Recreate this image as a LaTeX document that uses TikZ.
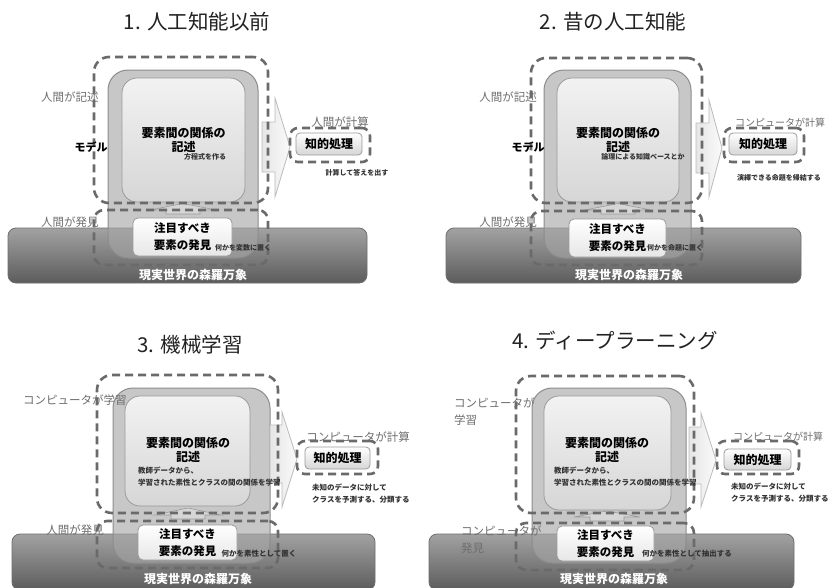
\documentclass[tikz,border=0pt]{standalone}
\usepackage{fontspec}
\setmainfont{Noto Sans CJK JP}
\definecolor{bartop}{HTML}{A2A2A2}
\definecolor{barbot}{HTML}{5C5C5C}
\definecolor{barline}{HTML}{6E6E6E}
\definecolor{outfill}{HTML}{A6A6A6}
\definecolor{outline}{HTML}{8C8C8C}
\definecolor{intop}{HTML}{F2F2F2}
\definecolor{inbot}{HTML}{D6D6D6}
\definecolor{inline}{HTML}{9A9A9A}
\definecolor{dashc}{HTML}{6A6A6A}
\definecolor{arrl}{HTML}{E6E6E6}
\definecolor{arrr}{HTML}{FAFAFA}
\definecolor{arrline}{HTML}{BBBBBB}
\definecolor{graytxt}{HTML}{6E6E6E}
\definecolor{smalltxt}{HTML}{333333}
\definecolor{titletxt}{HTML}{222222}
\newcommand\bx[7]{%
  \node[#2,minimum width={#5-#3},minimum height={#6-#4},inner sep=0pt,outer sep=0pt] (#1) at ({(#3+#5)/2},{(#4+#6)/2}) {#7};}
\begin{document}
\begin{tikzpicture}[x=1pt,y=-1pt,
  barst/.style={rounded corners=8pt,draw=barline,line width=0.8pt,top color=bartop,bottom color=barbot},
  outerst/.style={rounded corners=20pt,draw=outline,line width=1pt,fill=outfill,fill opacity=0.62,draw opacity=1},
  innerst/.style={rounded corners=15pt,draw=inline,line width=0.8pt,top color=intop,bottom color=inbot,align=center,font=\bfseries\fontsize{12}{14}\selectfont},
  intext/.style={align=center,inner sep=0pt,font=\bfseries\fontsize{12}{14}\selectfont},
  findst/.style={rounded corners=5pt,draw=inline,line width=0.8pt,top color=white,bottom color=inbot!60,align=center,font=\bfseries\fontsize{11.5}{17}\selectfont},
  chist/.style={rounded corners=4pt,draw=inline,line width=0.8pt,top color=white,bottom color=inbot,font=\bfseries\fontsize{12}{14}\selectfont},
  dashst/.style={rounded corners=15pt,draw=dashc,line width=2.6pt,dash pattern=on 8pt off 5pt},
  bigarr/.style={draw=arrline,line width=0.8pt,left color=arrl,right color=arrr},
  uparr/.style={draw=inline,line width=0.6pt,fill=inbot},
  titlest/.style={text=titletxt,font=\fontsize{20.5}{24}\selectfont,inner sep=0pt},
  barlbl/.style={text=white,font=\bfseries\fontsize{12}{14}\selectfont,inner sep=0pt},
  glbl/.style={text=graytxt,font=\fontsize{11.5}{17}\selectfont,inner sep=0pt,align=left},
  mlbl/.style={text=black,font=\bfseries\fontsize{11}{13}\selectfont,inner sep=0pt},
  smallst/.style={text=smalltxt,font=\bfseries\fontsize{7}{12}\selectfont,inner sep=0pt,align=left}]
\useasboundingbox (0,0) rectangle (828,587);
\clip (0,0) rectangle (828,587);
\fill[white] (0,0) rectangle (828,587);

% ---------------- Panel 1 ----------------
\node[titlest] (t1) at (197,22) {1. 人工知能以前};
\bx{bar1}{barst}{8}{228}{367}{283}{}
\bx{out1}{outerst}{108}{70}{258}{258}{}
\bx{in1}{innerst}{122}{78}{245}{202}{要素間の関係の\\記述}
\bx{find1}{findst}{133}{218}{232}{256}{注目すべき\\要素の発見}
\draw[uparr] (166,214) -- (166,210) -- (150,210) -- (183,203.5) -- (216,210) -- (200,210) -- (200,214) -- cycle;
\draw[bigarr] (262,122) -- (275,122) -- (275,98) -- (290,147) -- (275,197) -- (275,172) -- (262,172) -- cycle;
\bx{chi1}{chist}{296}{133}{362}{155}{知的処理}
\bx{dt1}{dashst}{94}{57}{268}{203}{}
\bx{db1}{dashst,rounded corners=10pt}{94}{210}{268}{265}{}
\bx{dc1}{dashst,rounded corners=8pt}{290}{128}{370}{162}{}
\node[barlbl] (w1) at (193,275) {現実世界の森羅万象};
\node[glbl] (l1a) at (70,97) {人間が記述};
\node[mlbl] (l1b) at (91,147) {モデル};
\node[glbl] (l1c) at (70,222) {人間が発見};
\node[glbl] (l1d) at (340,122) {人間が計算};
\node[smallst] (s1a) at (205,157) {方程式を作る};
\node[smallst] (s1b) at (357,173) {計算して答えを出す};
\node[smallst] (s1c) at (243,248) {何かを変数に置く};

% ---------------- Panel 2 ----------------
\node[titlest] (t2) at (613,22) {2. 昔の人工知能};
\bx{bar2}{barst}{446}{228}{801}{283}{}
\bx{out2}{outerst}{544}{70}{691}{258}{}
\bx{in2}{innerst}{557}{78}{679}{202}{要素間の関係の\\記述}
\bx{find2}{findst}{569}{219}{666}{257}{注目すべき\\要素の発見}
\draw[uparr] (601,214) -- (601,210) -- (585,210) -- (618,203.5) -- (651,210) -- (635,210) -- (635,214) -- cycle;
\draw[bigarr] (696,123) -- (709,123) -- (709,100) -- (722,148) -- (709,197) -- (709,173) -- (696,173) -- cycle;
\bx{chi2}{chist}{729}{133}{797}{155}{知的処理}
\bx{dt2}{dashst}{531}{58}{702}{203}{}
\bx{db2}{dashst,rounded corners=10pt}{531}{211}{702}{265}{}
\bx{dc2}{dashst,rounded corners=8pt}{724}{128}{804}{162}{}
\node[barlbl] (w2) at (629,275) {現実世界の森羅万象};
\node[glbl] (l2a) at (508,97) {人間が記述};
\node[mlbl] (l2b) at (528,147) {モデル};
\node[glbl] (l2c) at (508,222) {人間が発見};
\node[glbl,font=\fontsize{10}{12}\selectfont,anchor=west] (l2d) at (735,123) {コンピュータが計算};
\node[smallst] (s2a) at (643,157) {論理による知識ベースとか};
\node[smallst] (s2b) at (779,178) {演繹できる命題を帰結する};
\node[smallst] (s2c) at (675,248) {何かを命題に置く};

% ---------------- Panel 3 ----------------
\node[titlest] (t3) at (190,345) {3. 機械学習};
\bx{bar3}{barst}{12}{534}{375}{590}{}
\bx{out3}{outerst}{113}{388}{270}{563}{}
\bx{in3}{innerst}{125}{396}{250}{506}{}
\node[intext] (in3t) at (188,449.5) {要素間の関係の\\記述};
\bx{find3}{findst}{138}{525}{237}{560}{注目すべき\\要素の発見}
\draw[uparr] (171,519) -- (171,515) -- (155,515) -- (188,508) -- (221,515) -- (205,515) -- (205,519) -- cycle;
\draw[bigarr] (270,425) -- (282,425) -- (282,412) -- (297,459) -- (282,507) -- (282,483) -- (270,483) -- cycle;
\bx{chi3}{chist}{305}{447}{370}{469}{知的処理}
\bx{dt3}{dashst}{97}{375}{278}{513}{}
\bx{db3}{dashst,rounded corners=10pt}{97}{521}{278}{568}{}
\bx{dc3}{dashst,rounded corners=8pt}{297}{441}{378}{474}{}
\node[barlbl] (w3) at (198,579) {現実世界の森羅万象};
\node[glbl] (l3a) at (75,400) {コンピュータが学習};
\node[glbl] (l3c) at (75,530) {人間が発見};
\node[glbl] (l3d) at (358,437) {コンピュータが計算};
\node[smallst,font=\bfseries\fontsize{7.5}{12}\selectfont,anchor=west] (s3a) at (138,477) {教師データから、\\学習された素性とクラスの間の関係を学習};
\node[smallst,font=\bfseries\fontsize{7.5}{12}\selectfont,anchor=west] (s3b) at (312,494) {未知のデータに対して\\クラスを予測する、分類する};
\node[smallst,font=\bfseries\fontsize{7.5}{12}\selectfont] (s3c) at (259,554) {何かを素性として置く};

% ---------------- Panel 4 ----------------
\node[titlest] (t4) at (615,341) {4. ディープラーニング};
\bx{bar4}{barst}{429}{534}{794}{590}{}
\bx{out4}{outerst}{532}{388}{686}{563}{}
\bx{in4}{innerst}{544}{396}{671}{510}{}
\node[intext] (in4t) at (607,449.5) {要素間の関係の\\記述};
\bx{find4}{findst}{557}{526}{654}{561}{注目すべき\\要素の発見}
\draw[uparr] (590,521) -- (590,517) -- (574,517) -- (607,511) -- (640,517) -- (624,517) -- (624,521) -- cycle;
\draw[bigarr] (689,427) -- (701,427) -- (701,413) -- (716,460) -- (701,507) -- (701,484) -- (689,484) -- cycle;
\bx{chi4}{chist}{724}{449}{791}{470}{知的処理}
\bx{dt4}{dashst}{516}{376}{694}{513}{}
\bx{db4}{dashst,rounded corners=10pt}{516}{523}{694}{570}{}
\bx{dc4}{dashst,rounded corners=8pt}{717}{441}{799}{474}{}
\node[barlbl] (w4) at (614,579) {現実世界の森羅万象};
\node[glbl,anchor=west] (l4a) at (454,411.5) {コンピュータが\\学習};
\node[glbl,anchor=west] (l4c) at (461,539.5) {コンピュータが\\発見};
\node[glbl,font=\fontsize{10}{12}\selectfont,anchor=west] (l4d) at (733,437) {コンピュータが計算};
\node[smallst,font=\bfseries\fontsize{7.5}{12}\selectfont,anchor=west] (s4a) at (554,477) {教師データから、\\学習された素性とクラスの間の関係を学習};
\node[smallst,font=\bfseries\fontsize{7.5}{12}\selectfont,anchor=west] (s4b) at (731,493) {未知のデータに対して\\クラスを予測する、分類する};
\node[smallst,font=\bfseries\fontsize{7.5}{12}\selectfont] (s4c) at (687,554) {何かを素性として抽出する};
\end{tikzpicture}
\end{document}
